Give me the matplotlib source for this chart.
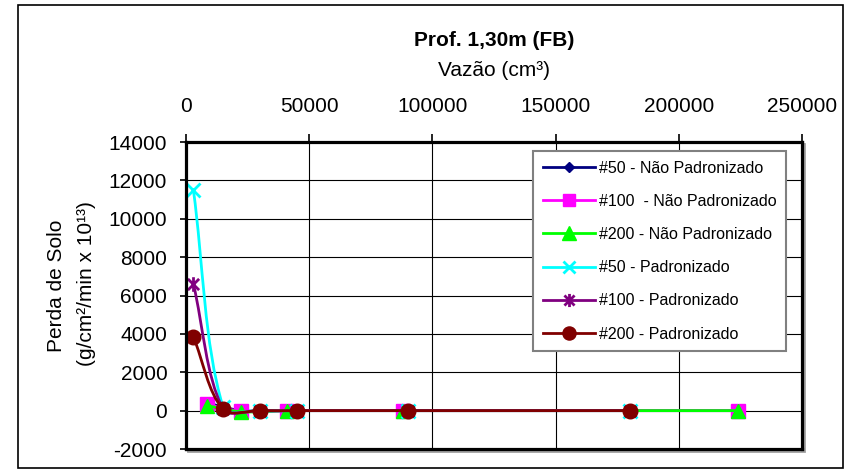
import numpy as np
import matplotlib
matplotlib.use("Agg")
import matplotlib.pyplot as plt
from matplotlib.path import Path
from matplotlib.patches import PathPatch, Rectangle
from matplotlib.lines import Line2D

plt.rcParams["font.family"] = ["Liberation Sans", "DejaVu Sans"]

# Flow volume (cm3) for each test series
vazao_np = [8500, 22500, 41000, 88000, 224000]
vazao_p = [3000, 15000, 30000, 45000, 90000, 180000]

# Soil loss (g/cm2/min x 10^13)
perda_50_np = [400, 0, 0, 0, 0]
perda_100_np = [320, -30, 0, 0, 0]
perda_200_np = [260, -60, 0, 0, 0]
perda_50_p = [11500, 200, 0, 0, 0, 0]
perda_100_p = [6600, 100, 0, 0, 0, 0]
perda_200_p = [3850, 80, 0, 0, 0, 0]

labels = ["#50 - Não Padronizado", "#100  - Não Padronizado", "#200 - Não Padronizado",
          "#50 - Padronizado", "#100 - Padronizado", "#200 - Padronizado"]

x_ticks = [0, 50000, 100000, 150000, 200000, 250000]
y_ticks = [-2000, 0, 2000, 4000, 6000, 8000, 10000, 12000, 14000]

# asterisk marker: an X crossed by a vertical stroke
star = Path([(-1, -1), (1, 1), (-1, 1), (1, -1), (0, -1.3), (0, 1.3)],
            [Path.MOVETO, Path.LINETO, Path.MOVETO, Path.LINETO, Path.MOVETO, Path.LINETO])

styles = [
    dict(color="#000080", marker="D", ms=6, mfc="#000080", mec="#000080", mew=1),
    dict(color="#FF00FF", marker="s", ms=9.5, mfc="#FF00FF", mec="#FF00FF", mew=1),
    dict(color="#00FF00", marker="^", ms=10.5, mfc="#00FF00", mec="#00FF00", mew=1),
    dict(color="#00FFFF", marker="x", ms=9.5, mfc="none", mec="#00FFFF", mew=2),
    dict(color="#800080", marker=star, ms=10.5, mfc="none", mec="#800080", mew=2),
    dict(color="#800000", marker="o", ms=10.5, mfc="#800000", mec="#800000", mew=1),
]

series = [
    (vazao_np, perda_50_np), (vazao_np, perda_100_np), (vazao_np, perda_200_np),
    (vazao_p, perda_50_p), (vazao_p, perda_100_p), (vazao_p, perda_200_p),
]


def smooth_path(ax, xs, ys):
    """Cubic Bezier through the points, tangents scaled by chord length on screen."""
    to_disp = ax.transData
    pts = to_disp.transform(np.column_stack([xs, ys]).astype(float))
    n = len(pts)
    verts = [pts[0]]
    codes = [Path.MOVETO]
    for i in range(n - 1):
        p0 = pts[max(i - 1, 0)]
        p1 = pts[i]
        p2 = pts[i + 1]
        p3 = pts[min(i + 2, n - 1)]
        d01 = np.hypot(*(p1 - p0))
        d12 = np.hypot(*(p2 - p1))
        d23 = np.hypot(*(p3 - p2))
        c1 = p1 + (p2 - p0) * d12 / (d01 + d12) / 3.0
        c2 = p2 - (p3 - p1) * d12 / (d12 + d23) / 3.0
        verts += [c1, c2, p2]
        codes += [Path.CURVE4] * 3
    data_verts = to_disp.inverted().transform(np.array(verts))
    return Path(data_verts, codes)


W, H = 852, 469
fig = plt.figure(figsize=(W / 100, H / 100), dpi=100)
ax = fig.add_axes([186 / W, 1 - 449 / H, 616 / W, 307 / H])
ax.set_xlim(0, 250000)
ax.set_ylim(-2000, 14000)

for k, ((xs, ys), st) in enumerate(zip(series, styles)):
    patch = PathPatch(smooth_path(ax, xs, ys), facecolor="none", edgecolor=st["color"],
                      lw=2, zorder=3 + 2 * k, capstyle="round", joinstyle="round")
    ax.add_patch(patch)
    ax.plot(xs, ys, linestyle="none", marker=st["marker"], ms=st["ms"], mfc=st["mfc"],
            mec=st["mec"], mew=st["mew"], zorder=4 + 2 * k, clip_on=False)

ax.set_xlim(0, 250000)
ax.set_ylim(-2000, 14000)
ax.set_xticks(x_ticks)
ax.set_xticklabels([str(v) for v in x_ticks])
ax.set_yticks(y_ticks)
ax.set_yticklabels([str(v) for v in y_ticks])
ax.xaxis.tick_top()
ax.tick_params(axis="x", which="both", direction="out", length=6, width=1.2,
               pad=13, labelsize=15, top=True, bottom=False)
ax.tick_params(axis="y", direction="out", length=4.5, width=1.2, pad=9, labelsize=15)
ax.grid(True, color="black", lw=0.8)
ax.set_axisbelow(True)
for sp in ax.spines.values():
    sp.set_linewidth(2.3)
    sp.set_color("black")
    sp.set_zorder(20)

handles = [Line2D([], [], color=st["color"], lw=2, marker=st["marker"], ms=st["ms"] * 0.9,
                  mfc=st["mfc"], mec=st["mec"], mew=st["mew"]) for st in styles]
leg = ax.legend(handles, labels, loc="upper left", bbox_to_anchor=(0.5633, 0.9707),
                borderaxespad=0, fontsize=11.5, handlelength=3.3, handletextpad=0.25,
                labelspacing=1.14, borderpad=0.6, fancybox=False, framealpha=1,
                edgecolor="#808080")
leg.get_frame().set_linewidth(1.5)
leg.set_zorder(30)

# drop shadow of the plot frame and the outer chart border
fig.patches.append(Rectangle((188 / W, 1 - 451 / H), 616 / W, 307 / H, transform=fig.transFigure,
                             fill=False, edgecolor="#a0a0a0", lw=2, zorder=-1))
fig.patches.append(Rectangle((18 / W, 1 - 468 / H), 825 / W, 463 / H, transform=fig.transFigure,
                             fill=False, edgecolor="black", lw=1.2, zorder=-2))

fig.text(494 / W, 1 - 40 / H, "Prof. 1,30m (FB)", ha="center", va="center",
         fontsize=15, fontweight="bold")
fig.text(494 / W, 1 - 70 / H, "Vazão (cm³)", ha="center", va="center", fontsize=15)
fig.text(57 / W, 1 - 286 / H, "Perda de Solo", ha="center", va="center",
         rotation=90, fontsize=15)
fig.text(87 / W, 1 - 284 / H, "(g/cm²/min x 10¹³)", ha="center", va="center",
         rotation=90, fontsize=15)

fig.savefig("out.png", dpi=100)
